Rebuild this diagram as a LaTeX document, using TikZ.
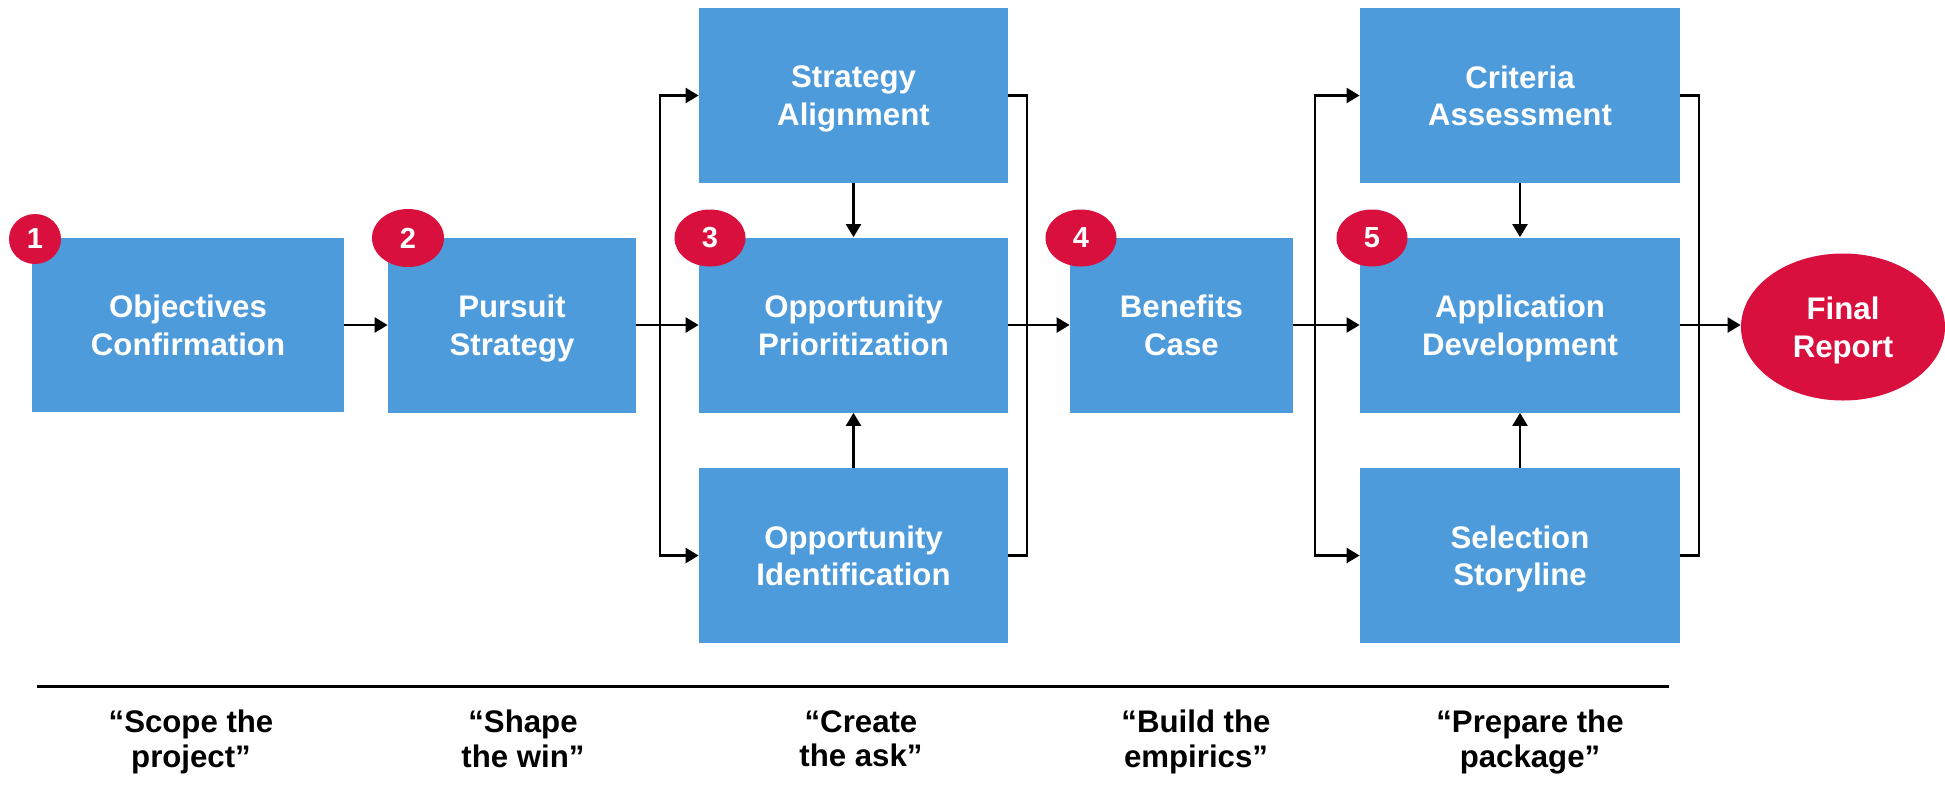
\documentclass[tikz,border=0pt]{standalone}
\usepackage{fontspec}
\setmainfont{Liberation Sans}
\usetikzlibrary{arrows.meta,shapes.geometric}
\definecolor{boxblue}{HTML}{4E9BDC}
\definecolor{badgered}{HTML}{D90F3D}
\begin{document}
\begin{tikzpicture}[x=0.5pt,y=-0.5pt,
  box/.style={rectangle, fill=boxblue, text=white, font=\fontsize{15.6}{18.8}\selectfont\bfseries, align=center, inner sep=0pt, text depth=0pt},
  badge/.style={ellipse, fill=badgered, text=white, font=\fontsize{14.5}{17}\selectfont\bfseries, inner sep=0pt},
  finalnode/.style={ellipse, fill=badgered, text=white, font=\fontsize{15.6}{18.8}\selectfont\bfseries, align=center, inner sep=0pt, text depth=0pt},
  conn/.style={line width=1.2pt, black},
  arr/.style={conn, -{Triangle[length=6.5pt,width=7.5pt]}},
  quotetext/.style={font=\fontsize{15.6}{17.2}\selectfont\bfseries, align=center, text depth=0pt}]
\useasboundingbox (0,0) rectangle (1945,789);

% boxes
\node[box, minimum width=156pt, minimum height=87pt] (obj) at (188,325) {Objectives\\Confirmation};
\node[box, minimum width=124pt, minimum height=87.5pt] (pur) at (512,325) {Pursuit\\Strategy};
\node[box, minimum width=154.5pt, minimum height=87.5pt] (sal) at (853.5,95.5) {Strategy\\Alignment};
\node[box, minimum width=154.5pt, minimum height=87.5pt] (opp) at (853.5,325) {Opportunity\\Prioritization};
\node[box, minimum width=154.5pt, minimum height=87.5pt] (opi) at (853.5,555.5) {Opportunity\\Identification};
\node[box, minimum width=111.5pt, minimum height=87.5pt] (ben) at (1181.5,325) {Benefits\\Case};
\node[box, minimum width=160pt, minimum height=87.5pt] (cri) at (1520,95.5) {Criteria\\Assessment};
\node[box, minimum width=160pt, minimum height=87.5pt] (app) at (1520,325) {Application\\Development};
\node[box, minimum width=160pt, minimum height=87.5pt] (sel) at (1520,555.5) {Selection\\Storyline};
\node[finalnode, minimum width=102pt, minimum height=73.5pt] (fin) at (1843,327) {Final\\Report};

% badges
\node[badge, minimum width=26pt, minimum height=25pt] (n1) at (35,239) {1};
\node[badge, minimum width=36pt, minimum height=29pt] (n2) at (408,238) {2};
\node[badge, minimum width=35.5pt, minimum height=28.5pt] (n3) at (710,238) {3};
\node[badge, minimum width=35.5pt, minimum height=28.5pt] (n4) at (1081,238) {4};
\node[badge, minimum width=35.5pt, minimum height=28.5pt] (n5) at (1372,238) {5};

% junction coordinates
\coordinate (s3) at (660,325);
\coordinate (j3) at (1027,325);
\coordinate (s5) at (1315,325);
\coordinate (j5) at (1699,325);

% connectors
\draw[arr] (obj.east) -- (pur.west);
\draw[arr] (pur.east) -- (opp.west);
\draw[arr] (s3) |- (sal.west);
\draw[arr] (s3) |- (opi.west);
\draw[conn] (sal.east) -| (j3) |- (opi.east);
\draw[arr] (sal.south) -- (opp.north);
\draw[arr] (opi.north) -- (opp.south);
\draw[arr] (opp.east) -- (ben.west);
\draw[arr] (ben.east) -- (app.west);
\draw[arr] (s5) |- (cri.west);
\draw[arr] (s5) |- (sel.west);
\draw[conn] (cri.east) -| (j5) |- (sel.east);
\draw[arr] (cri.south) -- (app.north);
\draw[arr] (sel.north) -- (app.south);
\draw[arr] (app.east) -- (fin.west |- app.east);

% bottom rule
\coordinate (l1) at (37,686);
\coordinate (l2) at (1669,686);
\draw[line width=1.5pt] (l1) -- (l2);

% phase quotes
\node[quotetext] (q1) at (191,738.5) {“Scope the\\project”};
\node[quotetext] (q2) at (523,738.5) {“Shape\\the win”};
\node[quotetext] (q3) at (861,738.5) {“Create\\the ask”};
\node[quotetext] (q4) at (1196,738.5) {“Build the\\empirics”};
\node[quotetext] (q5) at (1530,738.5) {“Prepare the\\package”};
\end{tikzpicture}
\end{document}
